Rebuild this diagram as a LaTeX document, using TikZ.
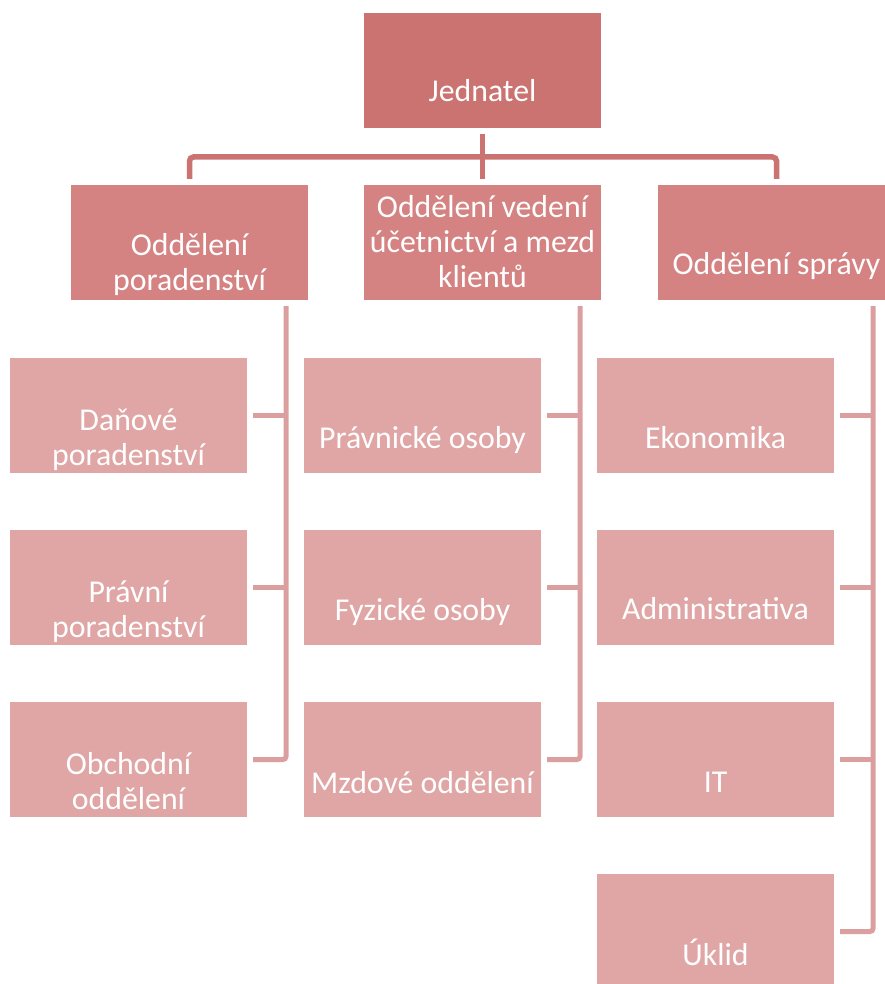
\documentclass[tikz,border=0pt]{standalone}
\usepackage{fontspec}
\setmainfont{Carlito}
\definecolor{topc}{HTML}{CB7370}
\definecolor{midc}{HTML}{D48382}
\definecolor{lowc}{HTML}{DFA6A5}
\definecolor{linec}{HTML}{DB9FA0}
\begin{document}
\begin{tikzpicture}[x=1pt,y=-1pt,
  box/.style={anchor=north west, minimum width=237pt, minimum height=115pt, inner sep=0pt, outer sep=0pt},
  topbox/.style={box, fill=topc},
  midbox/.style={box, fill=midc},
  lowbox/.style={box, fill=lowc},
  txt/.style={text=white, font=\fontsize{31.8}{34.6}\selectfont, align=center, inner sep=0pt, anchor=base},
  topconn/.style={draw=topc, line width=5.5pt},
  lowconn/.style={draw=linec, line width=5pt, rounded corners=3pt}]
\useasboundingbox (0,0) rectangle (885,984);
% boxes
\node[topbox] (jed) at (364,13) {};
\node[midbox] (o1) at (71,185) {};
\node[midbox] (o2) at (364,185) {};
\node[midbox] (o3) at (658,185) {};
\node[lowbox] (a1) at (10,358) {};
\node[lowbox] (a2) at (10,530) {};
\node[lowbox] (a3) at (10,702) {};
\node[lowbox] (b1) at (304,358) {};
\node[lowbox] (b2) at (304,530) {};
\node[lowbox] (b3) at (304,702) {};
\node[lowbox] (c1) at (597,358) {};
\node[lowbox] (c2) at (597,530) {};
\node[lowbox] (c3) at (597,702) {};
\node[lowbox] (c4) at (597,874) {};
% texts (anchor base = baseline of the last line)
\node[txt] (tjed) at ([yshift=26pt]jed.south) {Jednatel};
\node[txt] (to1) at ([yshift=10pt]o1.south) {Oddělení\\poradenství};
\node[txt] (to2) at ([yshift=13pt]o2.south) {Oddělení vedení\\účetnictví a mezd\\klientů};
\node[txt] (to3) at ([yshift=26pt]o3.south) {Oddělení správy};
\node[txt] (ta1) at ([yshift=8pt]a1.south) {Daňové\\poradenství};
\node[txt] (ta2) at ([yshift=8pt]a2.south) {Právní\\poradenství};
\node[txt] (ta3) at ([yshift=8pt]a3.south) {Obchodní\\oddělení};
\node[txt] (tb1) at ([yshift=25pt]b1.south) {Právnické osoby};
\node[txt] (tb2) at ([yshift=25pt]b2.south) {Fyzické osoby};
\node[txt] (tb3) at ([yshift=24pt]b3.south) {Mzdové oddělení};
\node[txt] (tc1) at ([yshift=25pt]c1.south) {Ekonomika};
\node[txt] (tc2) at ([yshift=26pt]c2.south) {Administrativa};
\node[txt] (tc3) at ([yshift=25pt]c3.south) {IT};
\node[txt] (tc4) at ([yshift=24pt]c4.south) {Úklid};
% top connectors
\coordinate (hub) at (483,157);
\draw[topconn] ([yshift=-6pt]jed.south) -- ([yshift=6pt]o2.north);
\draw[topconn, rounded corners=4pt] ([yshift=6pt]o1.north) -- (o1.north |- hub) -- (o3.north |- hub) -- ([yshift=6pt]o3.north);
% lower connectors
\coordinate (v1) at ([xshift=39pt]a1.east);
\coordinate (v2) at ([xshift=39pt]b1.east);
\coordinate (v3) at ([xshift=39pt]c1.east);
\draw[lowconn] ([yshift=-6pt]o1.south -| v1) -- (v1 |- a3.east) -- ([xshift=6pt]a3.east);
\draw[lowconn] ([xshift=6pt]a1.east) -- (v1);
\draw[lowconn] ([xshift=6pt]a2.east) -- (a2.east -| v1);
\draw[lowconn] ([yshift=-6pt]o2.south -| v2) -- (v2 |- b3.east) -- ([xshift=6pt]b3.east);
\draw[lowconn] ([xshift=6pt]b1.east) -- (v2);
\draw[lowconn] ([xshift=6pt]b2.east) -- (b2.east -| v2);
\draw[lowconn] ([yshift=-6pt]o3.south -| v3) -- (v3 |- c4.east) -- ([xshift=6pt]c4.east);
\draw[lowconn] ([xshift=6pt]c1.east) -- (v3);
\draw[lowconn] ([xshift=6pt]c2.east) -- (c2.east -| v3);
\draw[lowconn] ([xshift=6pt]c3.east) -- (c3.east -| v3);
\end{tikzpicture}
\end{document}
